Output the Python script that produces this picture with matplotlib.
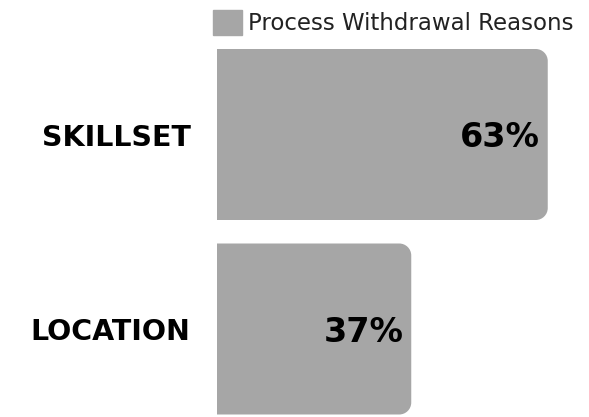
import matplotlib
matplotlib.use("Agg")
import matplotlib.pyplot as plt
from matplotlib.patches import PathPatch, Patch
from matplotlib.path import Path

# chart data
categories = ["SKILLSET", "LOCATION"]
values = [63, 37]
series_name = "Process Withdrawal Reasons"

BAR_COLOR = "#a6a6a6"
W, H, DPI = 589, 417, 100

fig = plt.figure(figsize=(W / DPI, H / DPI), dpi=DPI)
ax = fig.add_axes([217 / W, 0, 372 / W, 377 / H])

px_per_x = 5.25      # pixels per percent
px_per_y = 194.5     # pixels per category step
ax.set_xlim(0, 372 / px_per_x)
ax.set_ylim(1 + (417 - 329) / px_per_y, -(134.5 - 40) / px_per_y)

bars = ax.barh(range(len(categories)), values, height=171 / px_per_y,
               color=BAR_COLOR, label=series_name)


def rounded_right(x0, y0, w, h, rx, ry):
    # rectangle with the two right-hand corners rounded
    k = 0.5523
    x1, y1 = x0 + w, y0 + h
    verts = [(x0, y0), (x1 - rx, y0),
             (x1 - rx + k * rx, y0), (x1, y0 + ry - k * ry), (x1, y0 + ry),
             (x1, y1 - ry),
             (x1, y1 - ry + k * ry), (x1 - rx + k * rx, y1), (x1 - rx, y1),
             (x0, y1), (x0, y0)]
    codes = [Path.MOVETO, Path.LINETO,
             Path.CURVE4, Path.CURVE4, Path.CURVE4,
             Path.LINETO,
             Path.CURVE4, Path.CURVE4, Path.CURVE4,
             Path.LINETO, Path.CLOSEPOLY]
    return Path(verts, codes)


radius_px = 12
for b in bars:
    b.set_visible(False)
    p = rounded_right(b.get_x(), b.get_y(), b.get_width(), b.get_height(),
                      radius_px / px_per_x, radius_px / px_per_y)
    ax.add_patch(PathPatch(p, fc=BAR_COLOR, ec="none"))

# value labels inside bar ends
for i, v in enumerate(values):
    ax.annotate(f"{v}%", (v, i), xytext=(-8, -3), textcoords="offset pixels",
                ha="right", va="center", fontsize=24, fontweight="bold", color="black")

ax.set_yticks(range(len(categories)))
ax.set_yticklabels(categories, fontsize=20.5, fontweight="bold")
ax.tick_params(axis="y", length=0, pad=19)
ax.set_xticks([])
for s in ax.spines.values():
    s.set_visible(False)

fig.legend(handles=[Patch(color=BAR_COLOR, label=series_name)],
           loc="upper left", bbox_to_anchor=(204 / W, 1 - 1 / H),
           frameon=False, fontsize=16.5, handlelength=1.25, handleheight=1.3,
           handletextpad=0.28, borderaxespad=0, labelcolor="#222222")

fig.savefig("out.png", dpi=DPI)
